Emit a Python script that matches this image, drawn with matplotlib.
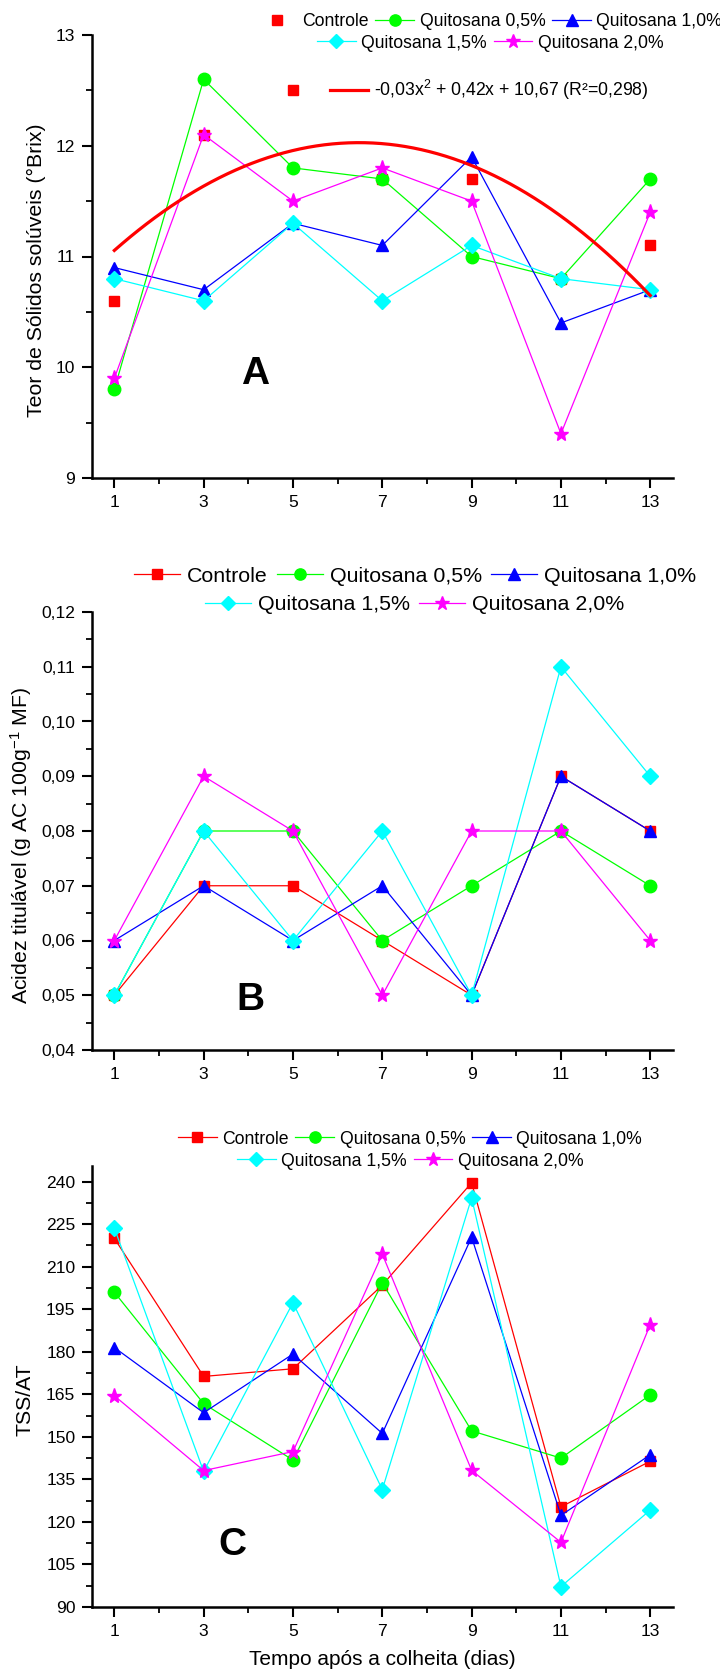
import numpy as np
import matplotlib
matplotlib.use("Agg")
import matplotlib.pyplot as plt
from matplotlib.legend import Legend
from matplotlib.ticker import MultipleLocator, FixedLocator, FuncFormatter

plt.rcParams["font.family"] = ["Liberation Sans", "DejaVu Sans"]
plt.rcParams["mathtext.fontset"] = "custom"
plt.rcParams["mathtext.rm"] = "Liberation Sans"
plt.rcParams["mathtext.it"] = "Liberation Sans"

# ---- data ----
days = [1, 3, 5, 7, 9, 11, 13]
series = ["Controle", "Quitosana 0,5%", "Quitosana 1,0%", "Quitosana 1,5%", "Quitosana 2,0%"]

# A: soluble solids (°Brix)
brix_ctrl = [10.6, 12.1, 12.5, 11.7, 11.7, 10.8, 11.1]
brix_q05 = [9.8, 12.6, 11.8, 11.7, 11.0, 10.8, 11.7]
brix_q10 = [10.9, 10.7, 11.3, 11.1, 11.9, 10.4, 10.7]
brix_q15 = [10.8, 10.6, 11.3, 10.6, 11.1, 10.8, 10.7]
brix_q20 = [9.9, 12.1, 11.5, 11.8, 11.5, 9.4, 11.4]

# B: titratable acidity
acid_ctrl = [0.05, 0.07, 0.07, 0.06, 0.05, 0.09, 0.08]
acid_q05 = [0.05, 0.08, 0.08, 0.06, 0.07, 0.08, 0.07]
acid_q10 = [0.06, 0.07, 0.06, 0.07, 0.05, 0.09, 0.08]
acid_q15 = [0.05, 0.08, 0.06, 0.08, 0.05, 0.11, 0.09]
acid_q20 = [0.06, 0.09, 0.08, 0.05, 0.08, 0.08, 0.06]

# C: TSS/AT
ratio_ctrl = [220.0, 171.3, 174.0, 203.5, 239.6, 125.3, 141.4]
ratio_q05 = [201.0, 161.7, 141.8, 204.3, 152.1, 142.5, 164.8]
ratio_q10 = [181.5, 158.5, 179.2, 151.2, 220.4, 122.3, 143.7]
ratio_q15 = [223.6, 137.8, 197.3, 131.4, 234.3, 97.2, 124.2]
ratio_q20 = [164.5, 138.1, 144.8, 214.4, 138.2, 112.8, 189.6]

fit_label = "-0,03x$^{2}$ + 0,42x + 10,67 (R²=0,298)"

colors = ["#FF0000", "#00FF00", "#0000FF", "#00FFFF", "#FF00FF"]
markers = ["s", "o", "^", "D", "*"]
msizes = [7.5, 9, 9, 8, 11]

W, H = 720, 1677
fig = plt.figure(figsize=(W / 100, H / 100), dpi=100)

L, R = 92 / W, 672.6 / W


def ax_at(top_px, bot_px):
    return fig.add_axes([L, 1 - bot_px / H, R - L, (bot_px - top_px) / H])


def style(ax, ylim, ymaj, ymin, fmt):
    ax.set_xlim(0.5, 13.5)
    ax.set_ylim(*ylim)
    ax.xaxis.set_major_locator(FixedLocator(days))
    ax.xaxis.set_minor_locator(FixedLocator([2, 4, 6, 8, 10, 12]))
    ax.yaxis.set_major_locator(MultipleLocator(ymaj))
    ax.yaxis.set_minor_locator(MultipleLocator(ymin))
    ax.yaxis.set_major_formatter(FuncFormatter(fmt))
    for s in ("top", "right"):
        ax.spines[s].set_visible(False)
    for s in ("left", "bottom"):
        ax.spines[s].set_linewidth(1.8)
    ax.tick_params(which="major", direction="out", length=7, width=1.5,
                   labelsize=12.6, pad=5)
    ax.tick_params(which="minor", direction="out", length=4, width=1.3)


def draw(ax, ys, ctrl_line=True):
    lines = []
    for i, (y, name) in enumerate(zip(ys, series)):
        ls = "-" if (i > 0 or ctrl_line) else "none"
        ln, = ax.plot(days, y, ls=ls, lw=0.9, color=colors[i], marker=markers[i],
                      ms=msizes[i], mec=colors[i], mfc=colors[i], label=name)
        lines.append(ln)
    return lines


def add_legend(ax, handles, labels, x, y, size, hl, pad, cs):
    leg = Legend(ax, handles, labels, loc="center", ncol=len(handles),
                 frameon=False, fontsize=size, handlelength=hl,
                 handletextpad=pad, columnspacing=cs, borderpad=0,
                 borderaxespad=0, numpoints=1, markerscale=0.9,
                 bbox_transform=fig.transFigure,
                 bbox_to_anchor=(x / W, 1 - y / H))
    ax.add_artist(leg)


def legend_rows(ax, lines, x, y1, y2, size, hl, pad, cs):
    add_legend(ax, lines[:3], series[:3], x, y1, size, hl, pad, cs)
    add_legend(ax, lines[3:], series[3:], x, y2, size, hl, pad, cs)


int_fmt = lambda v, p: f"{v:.0f}"
dec_fmt = lambda v, p: f"{v:.2f}".replace(".", ",")

# ---- panel A ----
axA = ax_at(35, 478)
style(axA, (9, 13), 1, 0.5, int_fmt)
lines = draw(axA, [brix_ctrl, brix_q05, brix_q10, brix_q15, brix_q20], ctrl_line=False)
coef = np.polyfit(days, brix_ctrl, 2)
xs = np.linspace(days[0], days[-1], 200)
fit_line, = axA.plot(xs, np.polyval(coef, xs), color="#FF0000", lw=2.3, zorder=5)
legend_rows(axA, lines, 490, 22, 43, 12.7, 2.2, 0.3, 0.4)
add_legend(axA, [fit_line], [fit_label], 489, 90, 12.7, 2.2, 0.3, 0.4)
axA.set_ylabel("Teor de Sólidos solúveis (°Brix)", fontsize=15.3, va="center")
axA.yaxis.set_label_coords(-0.0965, 0.47)
axA.text(4.16, 9.94, "A", fontsize=28, fontweight="bold", ha="center", va="center")

# ---- panel B ----
axB = ax_at(612, 1050)
style(axB, (0.04, 0.12), 0.01, 0.005, dec_fmt)
lines = draw(axB, [acid_ctrl, acid_q05, acid_q10, acid_q15, acid_q20])
legend_rows(axB, lines, 415, 576, 605, 15.4, 2.15, 0.33, 0.42)
axB.set_ylabel("Acidez titulável (g AC 100g$^{-1}$ MF)", fontsize=15.3, va="center")
axB.yaxis.set_label_coords(-0.122, 0.466)
axB.text(4.04, 0.0491, "B", fontsize=28, fontweight="bold", ha="center", va="center")

# ---- panel C ----
axC = ax_at(1166, 1607)
style(axC, (90, 245.5), 15, 7.5, int_fmt)
lines = draw(axC, [ratio_ctrl, ratio_q05, ratio_q10, ratio_q15, ratio_q20])
legend_rows(axC, lines, 410, 1139, 1161, 12.7, 2.2, 0.3, 0.4)
axC.set_ylabel("TSS/AT", fontsize=15.3, va="center")
axC.yaxis.set_label_coords(-0.115, 0.469)
axC.set_xlabel("Tempo após a colheita (dias)", fontsize=15, va="center")
axC.xaxis.set_label_coords(0.5, -0.12)
axC.text(3.64, 111.9, "C", fontsize=28, fontweight="bold", ha="center", va="center")

fig.savefig("out.png", dpi=100)
